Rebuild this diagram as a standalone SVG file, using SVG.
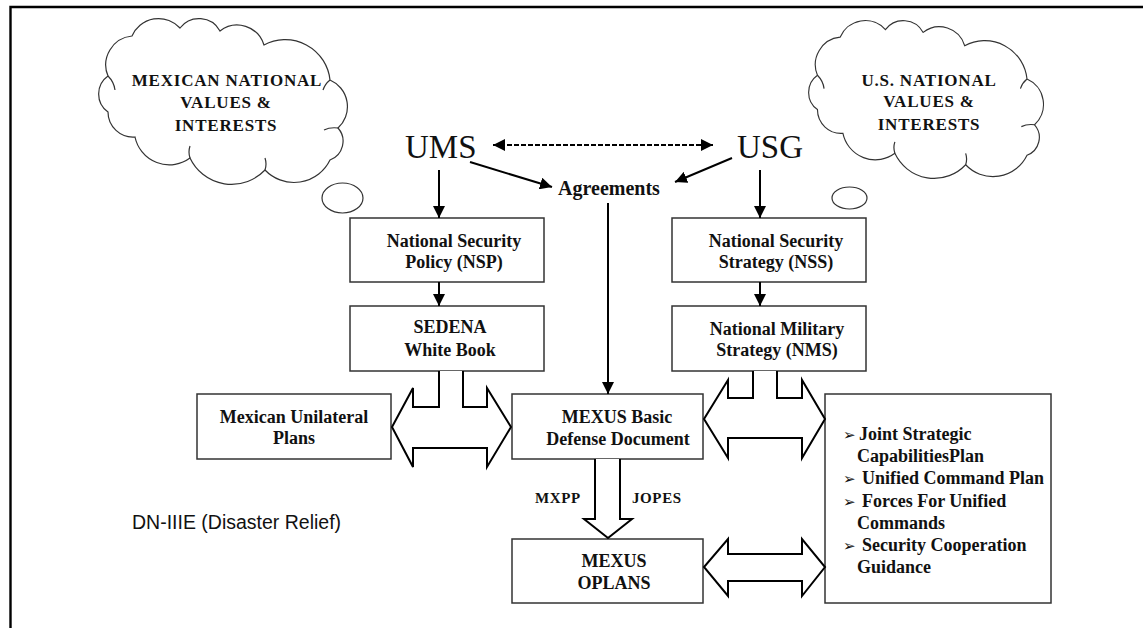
<svg xmlns="http://www.w3.org/2000/svg" width="1143" height="628" viewBox="0 0 1143 628">
<style>
.frame{stroke:#000;stroke-width:2.4;fill:none}
.box{fill:#fff;stroke:#333;stroke-width:1.5}
.cloud{fill:#fff;stroke:#333;stroke-width:1.2}
.tick{fill:none;stroke:#333;stroke-width:1.2}
.t{font-family:"Liberation Serif","Times New Roman",serif;font-weight:bold;font-size:18px;fill:#111;text-anchor:middle}
.ct{font-family:"Liberation Serif","Times New Roman",serif;font-weight:bold;font-size:17px;letter-spacing:0.8px;fill:#111;text-anchor:middle}
.big{font-family:"Liberation Serif","Times New Roman",serif;font-size:33px;fill:#111}
.li{font-family:"Liberation Serif","Times New Roman",serif;font-weight:bold;font-size:18px;fill:#111}
.bul{font-family:"DejaVu Sans",sans-serif;font-size:15px;fill:#111}
.lab{font-family:"Liberation Serif","Times New Roman",serif;font-weight:bold;font-size:15px;letter-spacing:0.6px;fill:#111}
.sans{font-family:"Liberation Sans",Arial,sans-serif;font-size:19.5px;fill:#111}
.ln{stroke:#000;stroke-width:2;fill:none}
.blk{fill:#fff;stroke:#000;stroke-width:2;stroke-linejoin:miter}
</style>
<defs>
<marker id="ah" viewBox="0 0 12 12" refX="12" refY="6" markerWidth="12" markerHeight="12" markerUnits="userSpaceOnUse" orient="auto-start-reverse">
<path d="M0,0 L12,6 L0,12 z" fill="#000"/>
</marker>
<path id="cloudShape" d="M108,76 A29,29 0 0 1 132,36 A29,29 0 0 1 180,28 A24,24 0 0 1 220,31 A28,28 0 0 1 264,45 A45,45 0 0 1 330,80 A29,29 0 0 1 338,128 A20,20 0 0 1 330,160 A40,40 0 0 1 265,170 A46,46 0 0 1 190,158 A35,35 0 0 1 135,137 A25,25 0 0 1 108,112 A22,22 0 0 1 108,76 Z"/>
</defs>
<rect x="0" y="0" width="1143" height="628" fill="#fff"/>
<path class="frame" d="M10.5,628 L10.5,7 L1143,7"/>

<g id="cloud-mexico">
<use href="#cloudShape" class="cloud"/>
<path class="tick" d="M108,76 q6,6 7,14 M330,80 q-5,4 -7,10 M190,158 q-2,-6 0,-12 M265,170 q2,-6 0,-12 M338,128 q-8,-1 -14,2"/>
<text class="ct" x="227" y="86">MEXICAN NATIONAL</text>
<text class="ct" x="226" y="108">VALUES &amp;</text>
<text class="ct" x="226" y="131">INTERESTS</text>
</g>
<g id="bubble-mexico"><ellipse class="cloud" cx="342.5" cy="198" rx="20.5" ry="15"/></g>

<g id="cloud-us">
<g transform="matrix(0.944 0 0 0.952 715.5 2.9)">
<use href="#cloudShape" class="cloud" vector-effect="non-scaling-stroke" style="vector-effect:non-scaling-stroke"/>
<path class="tick" vector-effect="non-scaling-stroke" d="M108,76 q6,6 7,14 M330,80 q-5,4 -7,10 M190,158 q-2,-6 0,-12 M265,170 q2,-6 0,-12 M338,128 q-8,-1 -14,2"/>
</g>
<text class="ct" x="929" y="86">U.S. NATIONAL</text>
<text class="ct" x="929" y="107">VALUES &amp;</text>
<text class="ct" x="929" y="130">INTERESTS</text>
</g>
<g id="bubble-us"><ellipse class="cloud" cx="849.5" cy="198" rx="17.5" ry="11"/></g>

<g id="ums"><text class="big" x="405" y="158">UMS</text></g>
<g id="usg"><text class="big" x="737" y="158">USG</text></g>
<g id="agreements"><text class="t" x="609" y="195" style="font-size:20px">Agreements</text></g>

<g id="nsp"><rect class="box" x="350" y="218" width="194" height="64"/>
<text class="t" x="454" y="247">National Security</text><text class="t" x="454" y="268">Policy (NSP)</text></g>
<g id="sedena"><rect class="box" x="350" y="306" width="194" height="65"/>
<text class="t" x="450" y="333">SEDENA</text><text class="t" x="450" y="356">White Book</text></g>
<g id="nss"><rect class="box" x="672" y="218" width="194" height="64"/>
<text class="t" x="776" y="247">National Security</text><text class="t" x="776" y="268">Strategy (NSS)</text></g>
<g id="nms"><rect class="box" x="672" y="306" width="194" height="65"/>
<text class="t" x="777" y="335">National Military</text><text class="t" x="777" y="356">Strategy (NMS)</text></g>
<g id="mexican-unilateral"><rect class="box" x="197" y="394" width="194" height="65"/>
<text class="t" x="294" y="423">Mexican Unilateral</text><text class="t" x="294" y="444">Plans</text></g>
<g id="mexus-basic"><rect class="box" x="512" y="394" width="191" height="65"/>
<text class="t" x="617" y="423">MEXUS Basic</text><text class="t" x="618" y="445">Defense Document</text></g>
<g id="mexus-oplans"><rect class="box" x="512" y="539" width="191" height="64"/>
<text class="t" x="614" y="567">MEXUS</text><text class="t" x="614" y="589">OPLANS</text></g>
<g id="us-plans"><rect class="box" x="825" y="394" width="226" height="209"/>
<text class="bul" x="843" y="440">➢</text><text class="li" x="859" y="440">Joint Strategic</text>
<text class="li" x="857" y="462">CapabilitiesPlan</text>
<text class="bul" x="843" y="484">➢</text><text class="li" x="862" y="484">Unified Command Plan</text>
<text class="bul" x="843" y="507">➢</text><text class="li" x="862" y="507">Forces For Unified</text>
<text class="li" x="857" y="529">Commands</text>
<text class="bul" x="843" y="551">➢</text><text class="li" x="862" y="551">Security Cooperation</text>
<text class="li" x="857" y="573">Guidance</text></g>
<g id="dn-iiie"><text class="sans" x="132" y="529">DN-IIIE (Disaster Relief)</text></g>

<g id="connectors">
<line class="ln" x1="493" y1="145" x2="713" y2="145" stroke-dasharray="5 2" marker-start="url(#ah)" marker-end="url(#ah)"/>
<line class="ln" x1="470" y1="162" x2="552" y2="187" marker-end="url(#ah)"/>
<line class="ln" x1="732" y1="158" x2="675" y2="182" marker-end="url(#ah)"/>
<line class="ln" x1="439" y1="170" x2="439" y2="218" marker-end="url(#ah)"/>
<line class="ln" x1="760" y1="170" x2="760" y2="218" marker-end="url(#ah)"/>
<line class="ln" x1="608" y1="203" x2="608" y2="394" marker-end="url(#ah)"/>
<line class="ln" x1="439" y1="282" x2="439" y2="306" marker-end="url(#ah)"/>
<line class="ln" x1="760" y1="282" x2="760" y2="306" marker-end="url(#ah)"/>
<path class="blk" d="M439,371 L439,407 L413,407 L413,388 L392,427 L413,467 L413,448 L487,448 L487,467 L511,427 L487,388 L487,407 L463,407 L463,371"/>
<path class="blk" d="M753,371 L753,398 L728,398 L728,380 L704,419 L728,458 L728,438 L802,438 L802,458 L825,419 L802,380 L802,398 L777,398 L777,371"/>
<path class="blk" d="M728,554 L728,539 L704,567 L728,596 L728,581 L802,581 L802,596 L825,567 L802,539 L802,554 Z"/>
<path class="blk" d="M595,459 L595,519 L584,519 L608,538 L632,519 L620,519 L620,459"/>
<text class="lab" x="535" y="503">MXPP</text>
<text class="lab" x="632" y="503">JOPES</text>
</g>
</svg>
